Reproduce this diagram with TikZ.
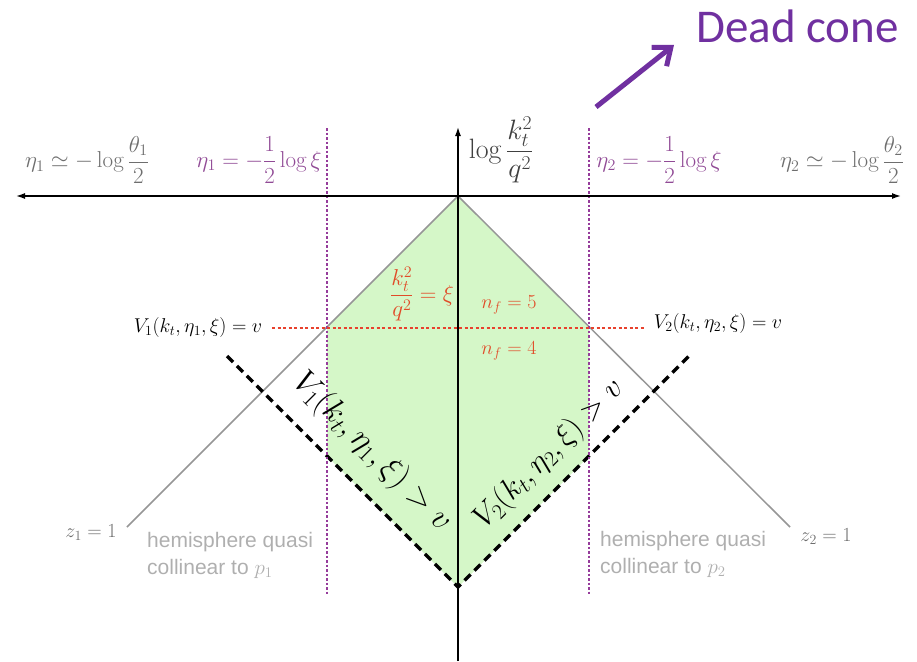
\RequirePackage{fix-cm}
\documentclass[tikz,border=0pt]{standalone}
\usepackage{amsmath}
\usepackage{fontspec}
\newfontfamily\hsans{Liberation Sans}
\newfontfamily\calib{Carlito}
\usetikzlibrary{arrows.meta}
\definecolor{greenfill}{RGB}{213,247,200}
\definecolor{purptext}{RGB}{145,75,150}
\definecolor{purpline}{RGB}{150,60,155}
\definecolor{redtext}{RGB}{225,75,40}
\definecolor{redline}{RGB}{232,65,45}
\definecolor{graytext}{RGB}{110,110,110}
\definecolor{grayline}{RGB}{150,150,150}
\definecolor{lightgraytext}{RGB}{175,175,175}
\definecolor{deadpurple}{RGB}{112,48,160}
\begin{document}
\begin{tikzpicture}[x=1pt,y=-1pt,
  mlabel/.style={inner sep=0pt,font=\fontsize{20}{24}\selectfont},
  fraclabel/.style={inner sep=0pt,font=\fontsize{23}{27}\selectfont},
  biglabel/.style={inner sep=0pt,font=\fontsize{31}{36}\selectfont},
  hemi/.style={inner sep=0pt,anchor=base west,text=lightgraytext,font=\hsans\fontsize{21}{25}\selectfont},
  axis/.style={line width=1.4pt,black},
  grayedge/.style={line width=1.5pt,grayline},
  cutline/.style={line width=3.5pt,black,dash pattern=on 8.5pt off 5.5pt},
  purpdot/.style={line width=1.3pt,purpline,dash pattern=on 2.5pt off 2pt},
  reddot/.style={line width=1.3pt,redline,dash pattern=on 3pt off 2.5pt}]
\path[use as bounding box] (0,0) rectangle (917,661);
% coordinates
\coordinate (O) at (458,196);
\coordinate (L) at (16,196);
\coordinate (R) at (901,196);
\coordinate (T) at (458,127);
\coordinate (B) at (458,661);
\coordinate (GL) at (127,527);
\coordinate (GR) at (790,527);
\coordinate (DL) at (227,356);
\coordinate (DB) at (458,587);
\coordinate (DR) at (690,355);
\coordinate (PL1) at (327,128);
\coordinate (PL2) at (327,594);
\coordinate (PR1) at (589,128);
\coordinate (PR2) at (589,594);
\coordinate (RL) at (272,328);
\coordinate (RR) at (645,328);
\coordinate (AL1) at (327,327);
\coordinate (AL2) at (327,456);
\coordinate (AR1) at (589,327);
\coordinate (AR2) at (589,456);
\coordinate (DC1) at (596,107);
\coordinate (DC2) at (674,45);
% green region
\fill[greenfill] (O) -- (AL1) -- (AL2) -- (DB) -- (AR2) -- (AR1) -- cycle;
% gray z=1 lines
\draw[grayedge] (GL) -- (O) -- (GR);
% dashed cut lines
\draw[cutline] (DL) -- (DB) -- (DR);
% dotted lines
\draw[purpdot] (PL1) -- (PL2);
\draw[purpdot] (PR1) -- (PR2);
\draw[reddot] (RL) -- (RR);
% axes
\draw[axis,{Latex[length=9pt,width=6pt]}-{Latex[length=9pt,width=6pt]}] (L) -- (R);
\draw[axis,-{Latex[length=9pt,width=6pt]}] (B) -- (T);
% top labels
\node[fraclabel,text=graytext] (eta1a) at (87,160) {$\eta_1 \simeq -\log\dfrac{\theta_1}{2}$};
\node[fraclabel,text=purptext] (eta1b) at (259,160) {$\eta_1 = -\dfrac{1}{2}\log\xi$};
\node[inner sep=0pt,font=\fontsize{28}{32}\selectfont,text=black!75] (ylab) at (501,150) {$\log\dfrac{k_t^2}{q^2}$};
\node[fraclabel,text=purptext] (eta2b) at (659,160) {$\eta_2 = -\dfrac{1}{2}\log\xi$};
\node[fraclabel,text=graytext] (eta2a) at (842,160) {$\eta_2 \simeq -\log\dfrac{\theta_2}{2}$};
% V = v labels
\node[mlabel] (v1eq) at (198,327) {$V_1(k_t,\eta_1,\xi) = v$};
\node[mlabel] (v2eq) at (718,323) {$V_2(k_t,\eta_2,\xi) = v$};
% red labels
\node[fraclabel,text=redtext] (ktq) at (422,294) {$\dfrac{k_t^2}{q^2} = \xi$};
\node[mlabel,text=redtext,anchor=base] (nf5) at (509,308) {$n_f = 5$};
\node[mlabel,text=redtext,anchor=base] (nf4) at (509,354) {$n_f = 4$};
% big rotated labels
\node[inner sep=0pt,font=\fontsize{33}{38}\selectfont,rotate=-45] (v1gt) at (372,452) {$V_1(k_t,\eta_1,\xi) > v$};
\node[biglabel,rotate=45] (v2gt) at (549,454) {$V_2(k_t,\eta_2,\xi) > v$};
% z labels
\node[mlabel,text=graytext] (z1) at (91,533) {$z_1 = 1$};
\node[mlabel,text=graytext] (z2) at (826,537) {$z_2 = 1$};
% hemisphere labels
\node[hemi] (h1a) at (147,547) {hemisphere quasi};
\node[hemi] (h1b) at (147,574) {collinear to $p_1$};
\node[hemi] (h2a) at (600,546) {hemisphere quasi};
\node[hemi] (h2b) at (600,573) {collinear to $p_2$};
% dead cone
\node[inner sep=0pt,anchor=base west,text=deadpurple,font=\calib\fontsize{47}{56}\selectfont] (dead) at (696,42) {Dead cone};
\draw[deadpurple,line width=5pt,-{Straight Barb[length=15pt,width=24pt]}] (DC1) -- (DC2);
\end{tikzpicture}
\end{document}
